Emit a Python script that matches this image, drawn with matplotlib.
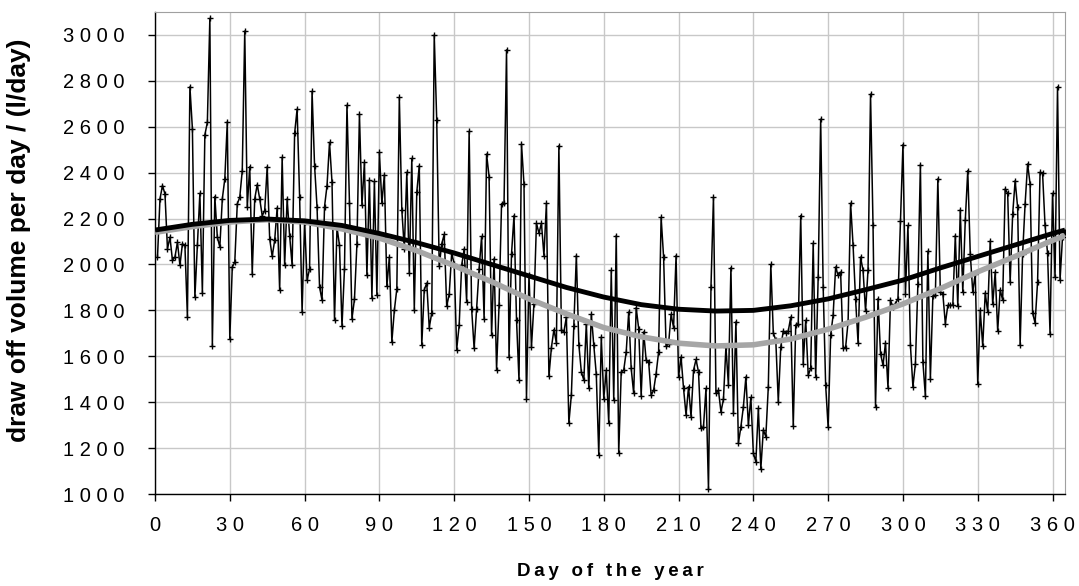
import matplotlib
matplotlib.use("Agg")
import matplotlib.pyplot as plt
from matplotlib.ticker import FuncFormatter
import numpy as np

plt.rcParams['font.family'] = ['Liberation Sans', 'DejaVu Sans']

# measured daily draw-off volume (l/day), days 1..365
draw_off = [
    2032, 2286, 2344, 2307, 2068, 2119, 2018, 2032, 2097, 1996, 2090, 2083, 1771, 2774, 2592, 1858,
    2083, 2310, 1877, 2565, 2619, 3072, 1645, 2296, 2119, 2076, 2286, 2373, 2622, 1677, 1989,
    2010, 2264, 2293, 2409, 3017, 2249, 2426, 1960, 2286, 2348, 2286, 2213, 2235, 2426, 2112,
    2035, 2105, 2247, 1887, 2467, 1996, 2286, 2126, 1996, 2571, 2677, 2296, 1793, 2184, 1931,
    1981, 2754, 2431, 2249, 1902, 1844, 2252, 2344, 2532, 2358, 1757, 2162, 2083, 1731, 1981,
    2694, 2268, 1764, 1848, 2090, 2655, 2257, 2445, 1952, 2368, 1855, 2362, 1865, 2488, 2267, 2391,
    1905, 2032, 1663, 1800, 1894, 2728, 2238, 2068, 2402, 1963, 2462, 1803, 2315, 2431, 1648,
    1890, 1919, 1725, 1789, 3000, 2629, 1992, 2090, 2131, 1818, 1870, 2049, 2003, 1629,
    1735, 1996, 2068, 1836, 2580, 1807, 1634, 1807, 1981, 2122, 1764, 2481, 2383, 1692, 2025,
    1542, 1822, 2264, 2267, 2935, 1597, 2047, 2213, 1760, 1496, 2525, 2351, 1416, 1952, 1641,
    1829, 2180, 2136, 2180, 2039, 2267, 1513, 1638, 1716, 1658, 2517, 1716, 1706, 1771, 1310,
    1431, 1731, 2039, 1651, 1532, 1496, 1742, 1460, 1783, 1648, 1522, 1170,
    1684, 1416, 1539, 1308, 1974, 1409, 2126, 1177, 1532, 1539, 1619, 1793, 1547, 1438, 1812,
    1721, 1428, 1706, 1583, 1576, 1431, 1452, 1525, 1619, 2206, 2032, 1644, 1655, 1783, 1725,
    2039, 1510, 1597,
    1460, 1344, 1467, 1337, 1539, 1586, 1532, 1286, 1293, 1460, 1020, 1902, 2293, 1438, 1452,
    1358, 1412, 1641, 1474, 1986, 1351, 1750, 1221, 1293, 1380, 1510, 1300, 1421,
    1177, 1141, 1373, 1110, 1279, 1250, 1467, 2000, 1702, 1670, 1402, 1641, 1710, 1702, 1710,
    1771, 1296, 1735, 1742, 2213, 1568, 1757, 1518, 1547, 2093, 1508, 1945, 2633, 1902, 1474,
    1290, 1692, 1779,
    1989, 1952, 1967, 1638, 1638, 1750, 2267, 2083, 1848, 1658, 2032, 1974, 1797, 1977, 2742,
    2170, 1380, 1851, 1612, 1561, 1658, 1464, 1844, 1815, 1829, 1851,
    2189, 2522, 1873, 2170, 1648, 1467, 1568, 1916, 2435, 1576, 1426, 2058, 1503, 1861, 1865,
    2373, 1880, 1873, 1742, 1822, 1822, 1822, 2126, 1818, 2238, 1880, 2192, 2409, 2047, 1880, 1960,
    1481, 1800, 1644, 1876, 1793, 2102, 1826, 1967, 1710, 1890, 1844, 2329, 2310, 1923, 2218,
    2365, 2249, 1648, 2047, 2264, 2438, 2351, 1789, 1745, 1923, 2402, 2397, 2170, 2049, 1699,
    2310, 1945, 2774, 1931, 2119, 2141,
]
days = list(range(1, len(draw_off) + 1))

# smooth profile curves read at 15-day intervals
curve_days = [0, 15, 30, 45, 60, 75, 90, 105, 120, 135, 150, 165, 180, 195, 210, 225, 240,
              255, 270, 285, 300, 315, 330, 345, 360, 365]
profile_black = [2150, 2175, 2192, 2198, 2190, 2170, 2135, 2095, 2050, 2000, 1950, 1900, 1858,
                 1825, 1805, 1797, 1800, 1820, 1850, 1890, 1932, 1985, 2035, 2085, 2135, 2150]
profile_gray = [2140, 2165, 2185, 2195, 2185, 2155, 2115, 2060, 1995, 1925, 1850, 1785, 1725,
                1685, 1657, 1645, 1650, 1675, 1718, 1770, 1828, 1895, 1968, 2035, 2105, 2125]

x_ticks = list(range(0, 361, 30))
y_ticks = list(range(1000, 3001, 200))

fig = plt.figure(figsize=(10.79, 5.86), dpi=100)
ax = fig.add_axes([155 / 1079, 1 - 494 / 586, (1065 - 155) / 1079, (494 - 12) / 586])

ax.plot(days, draw_off, color='black', lw=1.1, marker='+', ms=5, mew=1.0, zorder=3)
ax.plot(curve_days, profile_gray, color='#a6a6a6', lw=4.0, zorder=4, solid_capstyle='butt')
ax.plot(curve_days, profile_black, color='black', lw=3.5, zorder=5, solid_capstyle='butt')

ax.set_xlim(0, 365)
ax.set_ylim(1000, 3100)
ax.set_xticks(x_ticks)
ax.set_yticks(y_ticks)

fmt = FuncFormatter(lambda v, p: ' '.join(str(int(v))))
ax.xaxis.set_major_formatter(fmt)
ax.yaxis.set_major_formatter(fmt)

ax.grid(True, color='#c8c8c8', lw=1.0)
ax.set_axisbelow(True)
for s in ['top', 'right']:
    ax.spines[s].set_color('#a0a0a0')
for s in ['left', 'bottom']:
    ax.spines[s].set_color('black')
    ax.spines[s].set_linewidth(1.0)
ax.tick_params(axis='both', labelsize=14.5, length=5, width=1, direction='out')
ax.tick_params(axis='x', pad=11)
ax.tick_params(axis='y', pad=17)

ax.set_xlabel('\u2009'.join('Day of the year'), fontsize=13.5, fontweight='bold')
ax.set_ylabel('draw off volume per day / (l/day)', fontsize=19, fontweight='bold')
ax.xaxis.set_label_coords(0.5, (494 - 563) / 482, transform=ax.transAxes)
ax.yaxis.set_label_coords((31 - 155) / 910, (494 - 240) / 482, transform=ax.transAxes)

fig.savefig('out.png', dpi=100)
